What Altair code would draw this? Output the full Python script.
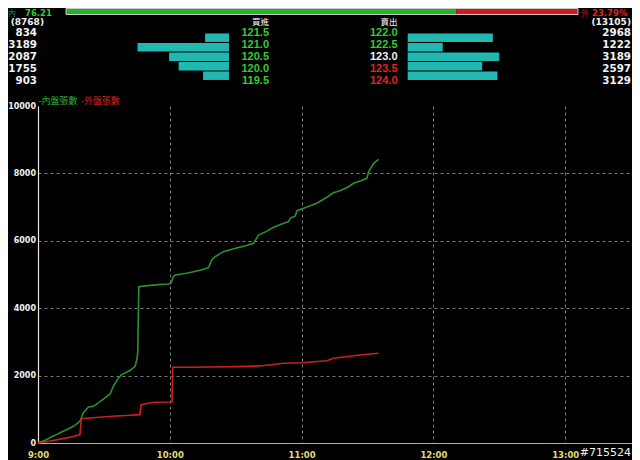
import altair as alt
import pandas as pd

# ---------------- data ----------------
# order book (5 levels)
bid_vol = [834, 3189, 2087, 1755, 903]
bid_price = [121.5, 121.0, 120.5, 120.0, 119.5]
ask_price = [122.0, 122.5, 123.0, 123.5, 124.0]
ask_vol = [2968, 1222, 3189, 2597, 3129]
ref_price = 123.0
bid_total = 8768
ask_total = 13105
inner_pct = 76.21
outer_pct = 23.79
stamp = "#715524"

# cumulative volume series (minutes after 9:00)
g_min = [0, 1.5, 3.8, 6, 8.4, 10.5, 13, 16.1, 19.1, 20.6, 22.9, 25.2, 27.5, 30.5, 32.8,
         34.3, 36.6, 38.1, 41.9, 44.2, 45.1, 45.4, 45.9, 50, 55, 59.4, 60.5, 61.6, 62.4,
         67.7, 70.8, 75, 77.6, 79.1, 80.6, 84.4, 90, 95, 98.1, 100.4, 104, 107.2, 111,
         114, 114.8, 117.1, 117.9, 120.9, 126.9, 130, 134.5, 138, 141.4, 143.6, 147,
         149.7, 150.5, 152.8, 155]
g_val = [0, 40, 99, 180, 248, 320, 396, 495, 644, 891, 1059, 1089, 1188, 1337, 1455,
         1683, 1931, 2030, 2149, 2277, 2500, 2700, 4640, 4670, 4700, 4718, 4739, 4935, 4985,
         5036, 5083, 5150, 5202, 5430, 5528, 5677, 5780, 5860, 5926, 6172, 6280, 6400, 6500,
         6567, 6668, 6736, 6893, 6964, 7113, 7231, 7427, 7500, 7605, 7706, 7780,
         7854, 8050, 8300, 8418]
r_min = [0, 5, 11.4, 16, 19.1, 19.7, 25, 34, 40, 46.4, 46.9, 50, 53.3, 61.0, 61.4, 70,
         78, 90, 101, 111.8, 120, 131.5, 134.5, 140, 146.7, 155]
r_val = [0, 50, 129, 190, 248, 723, 750, 792, 815, 842, 1139, 1180, 1208, 1218, 2248, 2250,
         2255, 2265, 2285, 2365, 2380, 2442, 2513, 2560, 2611, 2662]
series_names = ["內盤張數", "外盤張數"]

# ---------------- styles ----------------
GREEN_TXT = "#33cc33"
RED_TXT = "#e02424"
WHITE = "#f2f2f2"
TEAL = "#22b8b2"
LINE_G = "#2f8f2f"
LINE_R = "#cc2020"
BAR_G = "#22b422"
BAR_R = "#d41818"
NUM_FONT = "DejaVu Sans"
PRICE_FONT = "Liberation Sans"
CJK = "Noto Sans CJK TC"


def direction(p):
    return "up" if p > ref_price else ("flat" if p == ref_price else "down")


series = pd.concat([
    pd.DataFrame({"minute": g_min, "value": g_val, "series": series_names[0]}),
    pd.DataFrame({"minute": r_min, "value": r_val, "series": series_names[1]}),
])

book = pd.DataFrame({
    "row": [1, 2, 3, 4, 5],
    "bid_vol": bid_vol,
    "bid_price": [f"{p:.1f}" for p in bid_price],
    "bid_dir": [direction(p) for p in bid_price],
    "ask_price": [f"{p:.1f}" for p in ask_price],
    "ask_dir": [direction(p) for p in ask_price],
    "ask_vol": ask_vol,
})

pct = pd.DataFrame({"s": [0, inner_pct], "e": [inner_pct, 100], "k": ["內", "外"]})
frame = pd.DataFrame({"s": [0], "e": [100]})

row_y = alt.Y("row:Q", scale=alt.Scale(domain=[1, 5], range=[-73.3, -25.3]), axis=None)
dir_color = lambda f: alt.Color(f, scale=alt.Scale(domain=["up", "flat", "down"],
                                                   range=[RED_TXT, WHITE, GREEN_TXT]), legend=None)

# ---------------- main lines ----------------
lines = alt.Chart(series).mark_line(strokeWidth=1.6).encode(
    x=alt.X("minute:Q", scale=alt.Scale(domain=[0, 270.4], nice=False, zero=False),
            axis=alt.Axis(values=[0, 60, 120, 180, 240],
                          labelExpr="(floor(datum.value/60)+9) + ':00'",
                          grid=True, gridColor="#7a7a7a", gridDash=[3, 3], gridWidth=1,
                          ticks=False, domainColor="#b0b0b0", domainWidth=1.2,
                          labelColor="#e0dc78", labelFont=NUM_FONT, labelFontWeight="bold",
                          labelFontSize=8.5, labelPadding=7, labelFlush=False,
                          labelBound=False, labelOverlap=False, title=None)),
    y=alt.Y("value:Q", scale=alt.Scale(domain=[0, 10000], nice=False),
            axis=alt.Axis(values=[0, 2000, 4000, 6000, 8000, 10000], format="d",
                          grid=True, gridColor="#7a7a7a", gridDash=[3, 3], gridWidth=1,
                          gridOpacity={"condition": {"test": "datum.value === 10000", "value": 0},
                                       "value": 1},
                          ticks=False, domainColor="#e8e8e8", domainWidth=1.2,
                          labelColor=WHITE, labelFont=NUM_FONT, labelFontWeight="bold",
                          labelFontSize=8, labelPadding=2.5, labelFlush=False,
                          labelBound=False, labelOverlap=False, title=None)),
    color=alt.Color("series:N", scale=alt.Scale(domain=series_names, range=[LINE_G, LINE_R]),
                    legend=None),
)

# ---------------- order book ----------------
bid_bars = alt.Chart(book).mark_bar(orient="horizontal", size=8.5, color=TEAL).encode(
    x=alt.X("bid_vol:Q", scale=alt.Scale(domain=[0, 3200], range=[191, 99.2], nice=False), axis=None),
    y=row_y,
)
ask_bars = alt.Chart(book).mark_bar(orient="horizontal", size=8.5, color=TEAL).encode(
    x=alt.X("ask_vol:Q", scale=alt.Scale(domain=[0, 3200], range=[369.7, 461.5], nice=False), axis=None),
    y=row_y,
)
bid_vol_txt = alt.Chart(book).mark_text(align="right", baseline="middle", font=NUM_FONT,
                                        fontWeight="bold", fontSize=10.3, color=WHITE).encode(
    x=alt.value(-1), y=row_y, text="bid_vol:Q")
ask_vol_txt = alt.Chart(book).mark_text(align="right", baseline="middle", font=NUM_FONT,
                                        fontWeight="bold", fontSize=10.3, color=WHITE).encode(
    x=alt.value(593), y=row_y, text="ask_vol:Q")
bid_px_txt = alt.Chart(book).mark_text(align="right", baseline="middle", font=PRICE_FONT,
                                       fontWeight="bold", fontSize=11).encode(
    x=alt.value(231), y=row_y, text="bid_price:N", color=dir_color("bid_dir:N"))
ask_px_txt = alt.Chart(book).mark_text(align="right", baseline="middle", font=PRICE_FONT,
                                       fontWeight="bold", fontSize=11).encode(
    x=alt.value(359.5), y=row_y, text="ask_price:N", color=dir_color("ask_dir:N"))

# ---------------- inner/outer ratio bar ----------------
pct_scale = alt.Scale(domain=[0, 100], range=[28, 540], nice=False)
pct_bar = alt.Chart(pct).mark_rect().encode(
    x=alt.X("s:Q", scale=pct_scale, axis=None), x2="e:Q",
    y=alt.value(-97.5), y2=alt.value(-91.5),
    color=alt.Color("k:N", scale=alt.Scale(domain=["內", "外"], range=[BAR_G, BAR_R]), legend=None),
)
pct_frame = alt.Chart(frame).mark_rect(fillOpacity=0, stroke="#c8c8c8", strokeWidth=1).encode(
    x=alt.X("s:Q", scale=pct_scale, axis=None), x2="e:Q",
    y=alt.value(-97.5), y2=alt.value(-91.5),
)


def label(text, x, y, color, size, font=NUM_FONT, align="left", weight="bold"):
    return alt.Chart(pd.DataFrame({"t": [text]})).mark_text(
        align=align, baseline="middle", font=font, fontSize=size, fontWeight=weight, color=color
    ).encode(x=alt.value(x), y=alt.value(y), text="t:N")


labels = [
    label("內", -30, -92.3, "#2a8a2a", 8, font=CJK, weight="normal"),
    label(f"{inner_pct:.2f}", -13, -92.8, GREEN_TXT, 8.5),
    label("外", 543, -92.3, "#a82020", 8, font=CJK, weight="normal"),
    label(f"{outer_pct:.2f}%", 554, -92.8, RED_TXT, 8.5),
    label(f"({bid_total})", 6, -84.3, WHITE, 9, align="right"),
    label(f"({ask_total})", 593, -84.3, WHITE, 9, align="right"),
    label("買進", 231, -84.5, WHITE, 8.5, font=CJK, align="right", weight="normal"),
    label("賣出", 359.5, -84.5, WHITE, 8.5, font=CJK, align="right", weight="normal"),
    label("-" + series_names[0], 0.5, -5.5, "#2fae2f", 9, font=CJK, weight="normal"),
    label("-" + series_names[1], 43, -5.5, "#d02424", 9, font=CJK, weight="normal"),
    label(stamp, 593, 346.5, WHITE, 11, align="right", weight="normal"),
]

chart = alt.layer(
    lines, pct_bar, pct_frame, bid_bars, ask_bars,
    bid_vol_txt, ask_vol_txt, bid_px_txt, ask_px_txt, *labels
).resolve_scale(
    x="independent", y="independent", color="independent"
).properties(
    width=594, height=337,
    autosize=alt.AutoSizeParams(type="none"),
    padding={"left": 30, "top": 98, "right": 0, "bottom": 17},
    background="black",
).configure_view(stroke="transparent")

chart.save("out.html", embed_options={"renderer": "svg", "actions": False})
